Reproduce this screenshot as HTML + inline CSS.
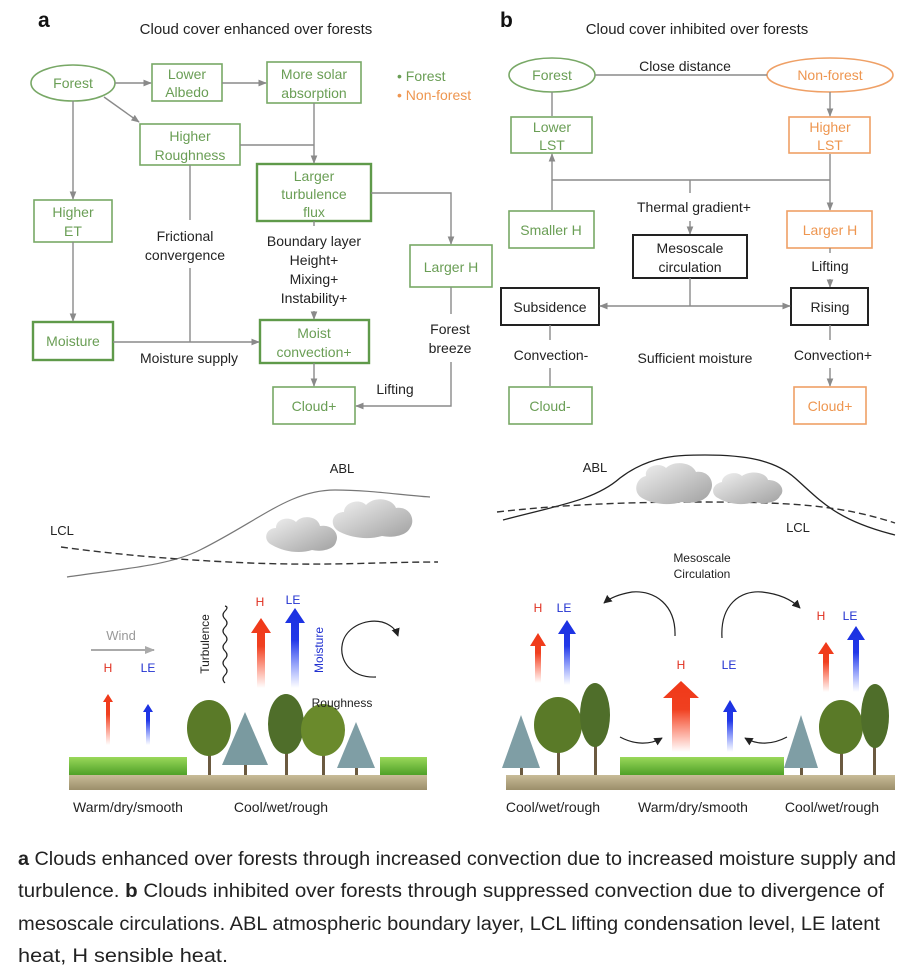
<!DOCTYPE html>
<html><head><meta charset="utf-8"><style>
html,body{margin:0;padding:0;background:#fff;}
svg{display:block;}
text{font-family:"Liberation Sans",Arial,sans-serif;}
.g{fill:#6a9e55;font-size:14px;}
.o{fill:#ee9650;font-size:14px;}
.k{fill:#222;font-size:14px;}
.bg{fill:none;stroke:#78a866;stroke-width:1.6;}
.bgt{fill:none;stroke:#5f9a4a;stroke-width:2.4;}
.bo{fill:none;stroke:#efa066;stroke-width:1.6;}
.bk{fill:none;stroke:#222;stroke-width:2;}
.l{fill:none;stroke:#8a8a8a;stroke-width:1.4;}
.cap{font-family:"Liberation Sans",sans-serif;font-size:19px;fill:#222;}
</style></head><body>
<svg width="908" height="974" viewBox="0 0 908 974" xmlns="http://www.w3.org/2000/svg">
<defs>
<marker id="a" viewBox="0 0 10 10" refX="9" refY="5" markerWidth="6" markerHeight="6" orient="auto-start-reverse"><path d="M0,1 L10,5 L0,9 z" fill="#8a8a8a"/></marker>
<marker id="ak" viewBox="0 0 10 10" refX="9" refY="5" markerWidth="7" markerHeight="7" orient="auto-start-reverse"><path d="M0,0 L10,5 L0,10 z" fill="#222"/></marker>
<marker id="aw" viewBox="0 0 10 10" refX="9" refY="5" markerWidth="5" markerHeight="5" orient="auto"><path d="M0,1 L10,5 L0,9 z" fill="#aaa"/></marker>
<linearGradient id="cl" x1="0" y1="0" x2="1" y2="1"><stop offset="0" stop-color="#f2f2f2"/><stop offset="1" stop-color="#a0a0a0"/></linearGradient>
<linearGradient id="red" x1="0" y1="1" x2="0" y2="0"><stop offset="0" stop-color="#ff4422" stop-opacity="0"/><stop offset="0.6" stop-color="#f04020"/><stop offset="1" stop-color="#f03818"/></linearGradient>
<linearGradient id="blu" x1="0" y1="1" x2="0" y2="0"><stop offset="0" stop-color="#3050ff" stop-opacity="0"/><stop offset="0.6" stop-color="#2238e8"/><stop offset="1" stop-color="#1a30e0"/></linearGradient>
<linearGradient id="grass" x1="0" y1="0" x2="0" y2="1"><stop offset="0" stop-color="#9ad85a"/><stop offset="1" stop-color="#4fa028"/></linearGradient>
<linearGradient id="soil" x1="0" y1="0" x2="0" y2="1"><stop offset="0" stop-color="#c8bc98"/><stop offset="1" stop-color="#9b8e6a"/></linearGradient>
</defs>

<!-- ===== Panel a ===== -->
<text x="38" y="27" style="font-size:21px;font-weight:bold;fill:#111">a</text>
<text x="256" y="34" text-anchor="middle" class="k" style="font-size:15px">Cloud cover enhanced over forests</text>

<ellipse cx="73" cy="83" rx="42" ry="18" class="bg"/>
<text x="73" y="88" text-anchor="middle" class="g">Forest</text>
<rect x="152" y="64" width="70" height="37" class="bg"/>
<text x="187" y="79" text-anchor="middle" class="g">Lower</text><text x="187" y="97" text-anchor="middle" class="g">Albedo</text>
<rect x="267" y="62" width="94" height="41" class="bg"/>
<text x="314" y="79" text-anchor="middle" class="g">More solar</text><text x="314" y="98" text-anchor="middle" class="g">absorption</text>
<text x="397" y="81" class="g">•  Forest</text>
<text x="397" y="100" class="o">•  Non-forest</text>
<rect x="140" y="124" width="100" height="41" class="bg"/>
<text x="190" y="141" text-anchor="middle" class="g">Higher</text><text x="190" y="160" text-anchor="middle" class="g">Roughness</text>
<rect x="257" y="164" width="114" height="57" class="bgt"/>
<text x="314" y="181" text-anchor="middle" class="g">Larger</text><text x="314" y="199" text-anchor="middle" class="g">turbulence</text><text x="314" y="217" text-anchor="middle" class="g">flux</text>
<rect x="34" y="200" width="78" height="42" class="bg"/>
<text x="73" y="217" text-anchor="middle" class="g">Higher</text><text x="73" y="236" text-anchor="middle" class="g">ET</text>
<text x="185" y="241" text-anchor="middle" class="k">Frictional</text><text x="185" y="260" text-anchor="middle" class="k">convergence</text>
<text x="314" y="246" text-anchor="middle" class="k">Boundary layer</text><text x="314" y="265" text-anchor="middle" class="k">Height+</text><text x="314" y="284" text-anchor="middle" class="k">Mixing+</text><text x="314" y="303" text-anchor="middle" class="k">Instability+</text>
<rect x="410" y="245" width="82" height="42" class="bg"/>
<text x="451" y="272" text-anchor="middle" class="g">Larger H</text>
<rect x="33" y="322" width="80" height="38" class="bgt"/>
<text x="73" y="346" text-anchor="middle" class="g">Moisture</text>
<text x="189" y="363" text-anchor="middle" class="k">Moisture supply</text>
<rect x="260" y="320" width="109" height="43" class="bgt"/>
<text x="314" y="338" text-anchor="middle" class="g">Moist</text><text x="314" y="357" text-anchor="middle" class="g">convection+</text>
<text x="450" y="334" text-anchor="middle" class="k">Forest</text><text x="450" y="353" text-anchor="middle" class="k">breeze</text>
<rect x="273" y="387" width="82" height="37" class="bg"/>
<text x="314" y="411" text-anchor="middle" class="g">Cloud+</text>
<text x="395" y="394" text-anchor="middle" class="k">Lifting</text>

<path d="M115,83 H151" class="l" marker-end="url(#a)"/>
<path d="M222,83 H266" class="l" marker-end="url(#a)"/>
<path d="M104,97 L139,122" class="l" marker-end="url(#a)"/>
<path d="M73,101 V199" class="l" marker-end="url(#a)"/>
<path d="M73,242 V321" class="l" marker-end="url(#a)"/>
<path d="M314,103 V163" class="l" marker-end="url(#a)"/>
<path d="M240,145 H314" class="l"/>
<path d="M371,193 H451 V244" class="l" marker-end="url(#a)"/>
<path d="M190,165 V220 M190,268 V342" class="l"/>
<path d="M113,342 H259" class="l" marker-end="url(#a)"/>
<path d="M314,221 V226 M314,311 V319" class="l" marker-end="url(#a)"/>
<path d="M314,363 V386" class="l" marker-end="url(#a)"/>
<path d="M451,287 V314 M451,362 V406 H356" class="l" marker-end="url(#a)"/>

<!-- ===== Panel b ===== -->
<text x="500" y="27" style="font-size:21px;font-weight:bold;fill:#111">b</text>
<text x="697" y="34" text-anchor="middle" class="k" style="font-size:15px">Cloud cover inhibited over forests</text>
<ellipse cx="552" cy="75" rx="43" ry="17" class="bg"/>
<text x="552" y="80" text-anchor="middle" class="g">Forest</text>
<ellipse cx="830" cy="75" rx="63" ry="17" class="bo"/>
<text x="830" y="80" text-anchor="middle" class="o">Non-forest</text>
<path d="M595,75 H767" class="l"/>
<text x="685" y="71" text-anchor="middle" class="k">Close distance</text>
<rect x="511" y="117" width="81" height="36" class="bg"/>
<text x="552" y="132" text-anchor="middle" class="g">Lower</text><text x="552" y="150" text-anchor="middle" class="g">LST</text>
<rect x="789" y="117" width="81" height="36" class="bo"/>
<text x="830" y="132" text-anchor="middle" class="o">Higher</text><text x="830" y="150" text-anchor="middle" class="o">LST</text>
<path d="M552,92 V116 M830,92 V116" class="l" marker-end="url(#a)"/>
<path d="M552,154 V210 M830,154 V210" class="l" marker-start="url(#a)" marker-end="url(#a)"/>
<path d="M552,180 H830 M690,180 V193" class="l"/>
<text x="694" y="212" text-anchor="middle" class="k">Thermal gradient+</text>
<path d="M690,221 V234" class="l" marker-end="url(#a)"/>
<rect x="509" y="211" width="85" height="37" class="bg"/>
<text x="551" y="235" text-anchor="middle" class="g">Smaller H</text>
<rect x="787" y="211" width="85" height="37" class="bo"/>
<text x="830" y="235" text-anchor="middle" class="o">Larger H</text>
<rect x="633" y="235" width="114" height="43" class="bk"/>
<text x="690" y="253" text-anchor="middle" class="k">Mesoscale</text><text x="690" y="272" text-anchor="middle" class="k">circulation</text>
<text x="830" y="271" text-anchor="middle" class="k">Lifting</text>
<path d="M830,248 V253 M830,279 V287" class="l" marker-end="url(#a)"/>
<rect x="501" y="288" width="98" height="37" class="bk"/>
<text x="550" y="312" text-anchor="middle" class="k">Subsidence</text>
<rect x="791" y="288" width="77" height="37" class="bk"/>
<text x="830" y="312" text-anchor="middle" class="k">Rising</text>
<path d="M690,278 V306" class="l"/>
<path d="M600,306 H790" class="l" marker-start="url(#a)" marker-end="url(#a)"/>
<text x="551" y="360" text-anchor="middle" class="k">Convection-</text>
<text x="695" y="363" text-anchor="middle" class="k">Sufficient moisture</text>
<text x="833" y="360" text-anchor="middle" class="k">Convection+</text>
<path d="M550,325 V340 M550,368 V386 M830,325 V340 M830,368 V386" class="l" marker-end="url(#a)"/>
<rect x="509" y="387" width="83" height="37" class="bg"/>
<text x="550" y="411" text-anchor="middle" class="g">Cloud-</text>
<rect x="794" y="387" width="72" height="37" class="bo"/>
<text x="830" y="411" text-anchor="middle" class="o">Cloud+</text>

<!-- ===== Illustration a ===== -->
<text x="342" y="473" text-anchor="middle" style="font-size:13px;fill:#222">ABL</text>
<text x="62" y="535" text-anchor="middle" style="font-size:13px;fill:#222">LCL</text>
<path d="M67,577 C130,568 170,565 200,550 C260,520 290,490 335,490 C370,490 400,495 430,497" fill="none" stroke="#777" stroke-width="1.2"/>
<path d="M61,547 C120,555 180,560 250,563 C330,566 380,562 438,562" fill="none" stroke="#333" stroke-width="1.4" stroke-dasharray="7,4"/>
<g fill="url(#cl)">
<path d="M272,545 C262,540 266,528 276,528 C276,518 290,516 296,522 C302,514 318,516 320,526 C332,524 340,534 336,542 C334,550 320,552 312,550 C300,554 284,552 272,545 z"/>
<path d="M340,532 C328,526 332,512 344,512 C344,502 360,498 366,505 C374,496 392,498 396,508 C410,506 416,520 410,528 C406,536 392,538 382,536 C368,540 352,538 340,532 z"/>
</g>
<!-- ground a -->
<rect x="69" y="775" width="358" height="15" fill="url(#soil)"/>
<rect x="69" y="757" width="118" height="18" fill="url(#grass)"/>
<rect x="380" y="757" width="47" height="18" fill="url(#grass)"/>
<g>
<rect x="208" y="745" width="3" height="30" fill="#6b5a40"/><ellipse cx="209" cy="728" rx="22" ry="28" fill="#5a7a28"/>
<rect x="244" y="745" width="3" height="30" fill="#6b5a40"/><path d="M245,712 L268,765 L222,765 z" fill="#7a9aa0"/>
<rect x="285" y="740" width="3" height="35" fill="#6b5a40"/><ellipse cx="286" cy="724" rx="18" ry="30" fill="#4f6e2a"/>
<rect x="322" y="745" width="3" height="30" fill="#6b5a40"/><ellipse cx="323" cy="730" rx="22" ry="26" fill="#6a8a2c"/>
<rect x="355" y="750" width="3" height="25" fill="#6b5a40"/><path d="M356,722 L375,768 L337,768 z" fill="#7f9ea5"/>
</g>
<!-- arrows a -->
<text x="121" y="640" text-anchor="middle" style="font-size:13px;fill:#999">Wind</text>
<path d="M91,650 H154" stroke="#aaa" stroke-width="2" marker-end="url(#aw)"/>
<text x="108" y="672" text-anchor="middle" style="font-size:12px;fill:#e03020">H</text>
<text x="148" y="672" text-anchor="middle" style="font-size:12px;fill:#2030d0">LE</text>
<path d="M106,745 V702 H103 L108,694 L113,702 H110 V745 z" fill="url(#red)"/>
<path d="M146,745 V712 H143 L148,704 L153,712 H150 V745 z" fill="url(#blu)"/>
<path d="M225,683 q-4,-4 0,-8 q4,-4 0,-8 q-4,-4 0,-8 q4,-4 0,-8 q-4,-4 0,-8 q4,-4 0,-8 q-4,-4 0,-8 q4,-4 0,-8 q-4,-4 0,-8 q4,-4 0,-5" fill="none" stroke="#222" stroke-width="1.2"/>
<text transform="translate(209,644) rotate(-90)" text-anchor="middle" style="font-size:12px;fill:#222">Turbulence</text>
<text x="260" y="606" text-anchor="middle" style="font-size:12px;fill:#e03020">H</text>
<text x="293" y="604" text-anchor="middle" style="font-size:12px;fill:#2030d0">LE</text>
<path d="M257,688 V633 H251 L261,618 L271,633 H265 V688 z" fill="url(#red)"/>
<path d="M291,688 V623 H285 L295,608 L305,623 H299 V688 z" fill="url(#blu)"/>
<text transform="translate(323,650) rotate(-90)" text-anchor="middle" style="font-size:12px;fill:#2030d0">Moisture</text>
<path d="M376,677 C350,678 340,660 342,646 C344,628 365,618 382,622 C392,625 396,630 398,636" fill="none" stroke="#222" stroke-width="1.2" marker-end="url(#ak)"/>
<text x="342" y="707" text-anchor="middle" style="font-size:12px;fill:#222">Roughness</text>

<!-- ===== Illustration b ===== -->
<text x="595" y="472" text-anchor="middle" style="font-size:13px;fill:#222">ABL</text>
<text x="798" y="532" text-anchor="middle" style="font-size:13px;fill:#222">LCL</text>
<path d="M503,520 C560,505 595,500 620,478 C650,455 680,455 705,455 C745,455 775,460 795,478 C820,500 835,520 895,535" fill="none" stroke="#222" stroke-width="1.3"/>
<path d="M497,512 C560,505 620,502 702,502 C790,502 840,505 895,523" fill="none" stroke="#333" stroke-width="1.4" stroke-dasharray="7,4"/>
<g fill="url(#cl)">
<path d="M642,498 C632,492 636,478 646,476 C644,466 660,462 666,468 C674,460 692,462 696,472 C708,470 716,482 710,492 C706,502 692,504 682,502 C668,506 652,504 642,498 z"/>
<path d="M718,498 C710,494 712,484 722,482 C722,474 736,470 742,476 C750,470 766,472 768,480 C780,480 786,490 780,496 C776,504 762,504 754,502 C742,506 728,504 718,498 z"/>
</g>
<text x="702" y="562" text-anchor="middle" style="font-size:12px;fill:#222">Mesoscale</text>
<text x="702" y="578" text-anchor="middle" style="font-size:12px;fill:#222">Circulation</text>
<path d="M675,636 C676,605 655,590 632,592 C620,594 610,598 604,603" fill="none" stroke="#222" stroke-width="1.2" marker-end="url(#ak)"/>
<path d="M722,638 C720,605 740,590 762,592 C780,594 792,600 800,608" fill="none" stroke="#222" stroke-width="1.2" marker-end="url(#ak)"/>
<rect x="506" y="775" width="389" height="15" fill="url(#soil)"/>
<rect x="620" y="757" width="164" height="18" fill="url(#grass)"/>
<g>
<rect x="520" y="745" width="3" height="30" fill="#6b5a40"/><path d="M521,715 L540,768 L502,768 z" fill="#7f9ea5"/>
<rect x="557" y="740" width="3" height="35" fill="#6b5a40"/><ellipse cx="558" cy="725" rx="24" ry="28" fill="#5a7a28"/>
<rect x="594" y="735" width="3" height="40" fill="#6b5a40"/><ellipse cx="595" cy="715" rx="15" ry="32" fill="#4f6e2a"/>
<rect x="800" y="745" width="3" height="30" fill="#6b5a40"/><path d="M801,715 L818,768 L784,768 z" fill="#7f9ea5"/>
<rect x="840" y="740" width="3" height="35" fill="#6b5a40"/><ellipse cx="841" cy="727" rx="22" ry="27" fill="#5a7a28"/>
<rect x="873" y="735" width="3" height="40" fill="#6b5a40"/><ellipse cx="875" cy="716" rx="14" ry="32" fill="#4f6e2a"/>
</g>
<path d="M620,737 C635,745 650,745 662,738" fill="none" stroke="#222" stroke-width="1.2" marker-end="url(#ak)"/>
<path d="M787,737 C772,745 757,745 745,738" fill="none" stroke="#222" stroke-width="1.2" marker-end="url(#ak)"/>
<text x="538" y="612" text-anchor="middle" style="font-size:12px;fill:#e03020">H</text>
<text x="564" y="612" text-anchor="middle" style="font-size:12px;fill:#2030d0">LE</text>
<path d="M535,683 V646 H530 L538,633 L546,646 H541 V683 z" fill="url(#red)"/>
<path d="M564,685 V634 H558 L567,620 L576,634 H570 V685 z" fill="url(#blu)"/>
<text x="681" y="669" text-anchor="middle" style="font-size:12px;fill:#e03020">H</text>
<text x="729" y="669" text-anchor="middle" style="font-size:12px;fill:#2030d0">LE</text>
<path d="M672,752 V698 H663 L681,681 L699,698 H690 V752 z" fill="url(#red)"/>
<path d="M727,752 V712 H723 L730,700 L737,712 H733 V752 z" fill="url(#blu)"/>
<text x="821" y="620" text-anchor="middle" style="font-size:12px;fill:#e03020">H</text>
<text x="850" y="620" text-anchor="middle" style="font-size:12px;fill:#2030d0">LE</text>
<path d="M823,692 V654 H818 L826,642 L834,654 H829 V692 z" fill="url(#red)"/>
<path d="M853,692 V640 H847 L856,626 L865,640 H859 V692 z" fill="url(#blu)"/>

<g style="font-size:14px;fill:#222">
<text x="128" y="812" text-anchor="middle">Warm/dry/smooth</text>
<text x="281" y="812" text-anchor="middle">Cool/wet/rough</text>
<text x="553" y="812" text-anchor="middle">Cool/wet/rough</text>
<text x="693" y="812" text-anchor="middle">Warm/dry/smooth</text>
<text x="832" y="812" text-anchor="middle">Cool/wet/rough</text>
</g>

<!-- caption -->
<text class="cap" x="18" y="865" textLength="878" lengthAdjust="spacingAndGlyphs"><tspan font-weight="bold">a</tspan> Clouds enhanced over forests through increased convection due to increased moisture supply and</text>
<text class="cap" x="18" y="897" textLength="866" lengthAdjust="spacingAndGlyphs">turbulence. <tspan font-weight="bold">b</tspan> Clouds inhibited over forests through suppressed convection due to divergence of</text>
<text class="cap" x="18" y="930" textLength="862" lengthAdjust="spacingAndGlyphs">mesoscale circulations. ABL atmospheric boundary layer, LCL lifting condensation level, LE latent</text>
<text class="cap" x="18" y="962" textLength="210" lengthAdjust="spacingAndGlyphs">heat, H sensible heat.</text>
</svg>
</body></html>
